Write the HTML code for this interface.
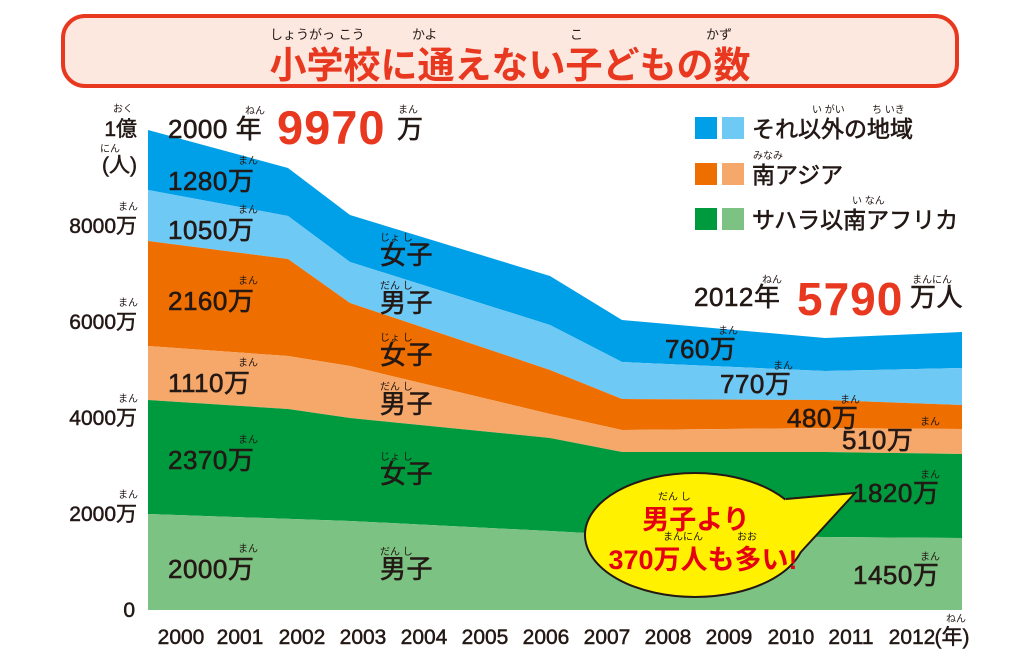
<!DOCTYPE html>
<html><head><meta charset="utf-8"><style>
html,body{margin:0;padding:0;background:#fff;}
svg{display:block;font-family:"Liberation Sans","Noto Sans CJK JP",sans-serif;}
.t{font-size:26px;fill:#231815;stroke:#231815;stroke-width:0.6;letter-spacing:0.5px;}
.r{font-size:10px;fill:#231815;}
.y{font-size:21px;fill:#231815;stroke:#231815;stroke-width:0.5;}
.l{font-size:23px;fill:#231815;stroke:#231815;stroke-width:0.6;}
</style></head><body>
<svg width="1024" height="661" viewBox="0 0 1024 661" xmlns="http://www.w3.org/2000/svg">
<rect x="63" y="16" width="894" height="70" rx="22" fill="#fde8e0" stroke="#e8381f" stroke-width="4"/>
<text x="510" y="78" text-anchor="middle" font-size="37" font-weight="bold" fill="#e8381f">小学校に通えない子どもの数</text>
<g style="font-size:13px;fill:#231815"><text x="270" y="39">しょうがっ こう</text><text x="412" y="39">かよ</text><text x="570" y="39">こ</text><text x="706" y="39">かず</text></g>

<!-- bands -->
<polygon fill="#00a0e9" points="148,130 288,168 350,215 550,276 622,320 825,338 962,332 962,368 825,371 622,362 550,325 350,262 288,216 148,190"/>
<polygon fill="#6ec9f5" points="148,190 288,216 350,262 550,325 622,362 825,371 962,368 962,405 825,400 622,399 550,370 350,303 288,259 148,241"/>
<polygon fill="#ee6e00" points="148,241 288,259 350,303 550,370 622,399 825,400 962,405 962,429 825,428 622,430 550,414 350,366 288,356 148,346"/>
<polygon fill="#f5a86a" points="148,346 288,356 350,366 550,414 622,430 825,428 962,429 962,454 825,452 622,452 550,438 350,418 288,409 148,400"/>
<polygon fill="#009a3e" points="148,400 288,409 350,418 550,438 622,452 825,452 962,454 962,538 825,537 622,535 550,531 350,521 148,514"/>
<polygon fill="#7cc282" points="148,514 350,521 550,531 622,535 825,537 962,538 962,610 148,610"/>

<!-- y axis -->
<g class="y" text-anchor="end">
<text x="137" y="136">1億</text><text x="137" y="172">(人)</text>
<text x="137" y="233">8000万</text><text x="137" y="329">6000万</text>
<text x="137" y="425">4000万</text><text x="137" y="521">2000万</text>
<text x="135" y="617">0</text></g>
<g class="r"><text x="113" y="112">おく</text><text x="100" y="152">にん</text>
<text x="118" y="210">まん</text><text x="118" y="306">まん</text><text x="118" y="402">まん</text><text x="118" y="498">まん</text></g>

<!-- x axis -->
<g class="y" text-anchor="middle">
<text x="181" y="644">2000</text><text x="240" y="644">2001</text><text x="302" y="644">2002</text><text x="363" y="644">2003</text><text x="424" y="644">2004</text><text x="485" y="644">2005</text><text x="546" y="644">2006</text><text x="607" y="644">2007</text><text x="668" y="644">2008</text><text x="729" y="644">2009</text><text x="791" y="644">2010</text><text x="851" y="644">2011</text><text x="912" y="644">2012</text><text x="952" y="644">(年)</text></g>
<text class="r" x="946" y="622">ねん</text>

<!-- labels -->
<g class="t">
<text x="168" y="138">2000 年</text>
<text x="168" y="190">1280万</text><text x="168" y="239">1050万</text>
<text x="168" y="310">2160万</text><text x="168" y="392">1110万</text>
<text x="168" y="469">2370万</text><text x="168" y="578">2000万</text>
<text x="380" y="264">女子</text><text x="380" y="312">男子</text><text x="380" y="364">女子</text><text x="380" y="413">男子</text><text x="380" y="483">女子</text><text x="380" y="578">男子</text>
<text x="694" y="306">2012年</text>
<text x="665" y="358">760万</text><text x="720" y="393">770万</text><text x="787" y="427">480万</text><text x="842" y="449">510万</text><text x="853" y="502">1820万</text><text x="853" y="584">1450万</text>
</g>
<text x="277" y="144" font-size="47" font-weight="bold" fill="#e8381f" letter-spacing="1">9970</text>
<text x="397" y="138" class="t">万</text>
<text x="797" y="315" font-size="46" font-weight="bold" fill="#e8381f" letter-spacing="1">5790</text>
<text x="910" y="306" class="t">万人</text>
<g class="r"><text x="245" y="114">ねん</text><text x="398" y="113">まん</text>
<text x="238" y="164">まん</text><text x="238" y="213">まん</text><text x="238" y="284">まん</text><text x="238" y="366">まん</text><text x="238" y="443">まん</text><text x="238" y="552">まん</text>
<text x="380" y="241">じょ し</text><text x="380" y="289">だん し</text><text x="380" y="341">じょ し</text><text x="380" y="390">だん し</text><text x="380" y="460">じょ し</text><text x="380" y="555">だん し</text>
<text x="762" y="283">ねん</text><text x="912" y="283">まんにん</text>
<text x="718" y="334">まん</text><text x="773" y="369">まん</text><text x="840" y="403">まん</text><text x="920" y="425">まん</text><text x="920" y="478">まん</text><text x="920" y="560">まん</text></g>

<!-- legend -->
<rect x="695" y="117" width="22" height="22" fill="#00a0e9"/><rect x="722" y="117" width="22" height="22" fill="#6ec9f5"/>
<rect x="695" y="163" width="22" height="22" fill="#ee6e00"/><rect x="722" y="163" width="22" height="22" fill="#f5a86a"/>
<rect x="695" y="208" width="22" height="22" fill="#009a3e"/><rect x="722" y="208" width="22" height="22" fill="#7cc282"/>
<g class="l"><text x="752" y="137">それ以外の地域</text><text x="752" y="183">南アジア</text><text x="752" y="228">サハラ以南アフリカ</text></g>
<g class="r"><text x="812" y="113">い がい</text><text x="872" y="113">ち いき</text><text x="753" y="159">みなみ</text><text x="852" y="204">い なん</text></g>

<!-- bubble -->
<ellipse cx="695" cy="535" rx="110" ry="62" fill="#fff100" stroke="#231815" stroke-width="2"/>
<polygon points="786,499 855,493 800,553 760,530" fill="#fff100"/>
<polyline points="786,499 855,493 800,553" fill="none" stroke="#231815" stroke-width="2" stroke-linejoin="miter"/>
<g font-weight="bold" fill="#e60012" text-anchor="middle"><text x="696" y="529" font-size="27">男子より</text><text x="703" y="569" font-size="27">370万人も多い!</text></g>
<g class="r"><text x="658" y="500">だん し</text><text x="663" y="540">まんにん</text><text x="737" y="540">おお</text></g>
</svg>
</body></html>
